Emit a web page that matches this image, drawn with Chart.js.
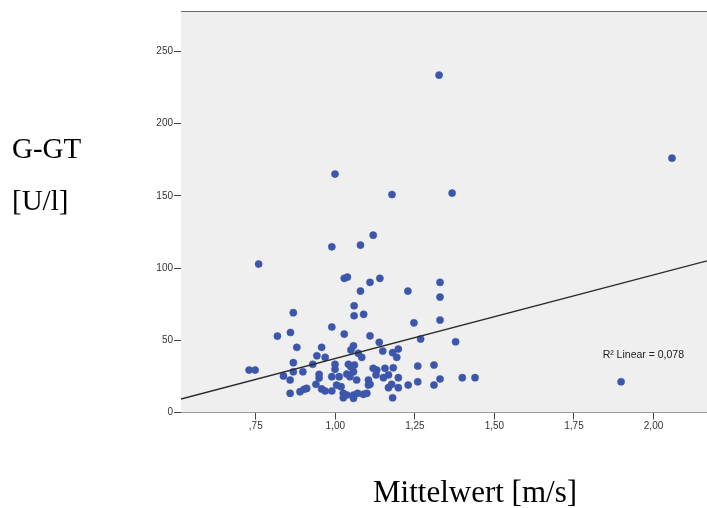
<!DOCTYPE html>
<html>
<head>
<meta charset="utf-8">
<script src="https://cdn.jsdelivr.net/npm/chart.js@4.4.1/dist/chart.umd.min.js"></script>
<style>
  html, body { margin: 0; padding: 0; background: #ffffff; overflow: hidden; }
  #wrap { width: 707px; height: 508px; position: relative; }
</style>
</head>
<body>
<div id="wrap"><canvas id="c" width="707" height="508"></canvas></div>
<script>
// ---- data ----
const mittelwert = [
  1.326, 2.058, 0.999, 1.367, 1.178, 1.119, 0.989, 1.079, 0.759, 1.028,
  1.038, 1.109, 1.140, 1.079, 1.228, 1.329, 1.329, 0.868, 1.059, 1.059,
  1.089, 1.247, 1.329, 0.989, 0.859, 0.818, 1.028, 1.109, 1.268, 1.378,
  0.879, 0.957, 1.138, 1.057, 1.049, 1.149, 1.198, 1.180, 1.193, 0.942,
  0.968, 1.072, 1.083, 0.868, 0.929, 0.999, 0.999, 1.041, 1.049, 1.060,
  0.729, 0.748, 0.837, 0.868, 0.898, 0.858, 0.949, 0.949, 0.989, 1.012,
  1.036, 1.046, 1.057, 1.067, 1.004, 1.018, 0.939, 0.858, 0.889, 0.902,
  0.910, 0.957, 0.968, 0.989, 1.025, 1.025, 1.036, 1.057, 1.057, 1.070,
  1.088, 1.099, 1.104, 1.104, 1.119, 1.130, 1.128, 1.156, 1.182, 1.151,
  1.167, 1.198, 1.109, 1.177, 1.167, 1.198, 1.229, 1.259, 1.259, 1.180,
  1.310, 1.329, 1.310, 1.399, 1.439, 1.898
];
const ggt = [
  233.6, 176.1, 165.1, 151.9, 150.9, 122.8, 114.7, 115.9, 102.8, 92.9,
  93.8, 90.1, 92.9, 84.1, 84.1, 90.1, 79.9, 69.1, 73.9, 67.0,
  68.0, 62.1, 64.0, 59.2, 55.4, 52.9, 54.3, 53.1, 50.9, 49.0,
  45.1, 45.1, 48.6, 46.2, 43.3, 42.6, 43.9, 41.4, 38.2, 39.3,
  38.2, 41.0, 38.2, 34.5, 33.4, 33.4, 29.9, 33.4, 31.7, 32.9,
  29.4, 29.4, 25.3, 28.2, 28.2, 22.5, 26.4, 23.9, 24.8, 24.8,
  26.6, 24.8, 28.2, 22.5, 19.0, 17.9, 19.5, 13.3, 14.4, 16.1,
  16.7, 16.3, 14.9, 14.9, 13.3, 10.2, 12.1, 9.8, 12.1, 13.3,
  12.6, 13.3, 22.5, 19.0, 30.6, 29.4, 26.0, 30.6, 31.0, 24.1,
  26.0, 24.1, 19.5, 19.5, 17.2, 17.2, 19.0, 32.2, 21.3, 10.2,
  32.9, 23.2, 19.0, 24.1, 24.1, 21.3
];
const xTickValues = [0.75, 1.00, 1.25, 1.50, 1.75, 2.00];
const xTickLabels = [',75', '1,00', '1,25', '1,50', '1,75', '2,00'];
const yTickValues = [0, 50, 100, 150, 200, 250];
const yTickLabels = ['0', '50', '100', '150', '200', '250'];
const fitIntercept = -20.5;   // linear fit
const fitSlope = 57.9;
const fitLabel = 'R\u00B2 Linear = 0,078';
const yTitleLines = ['G-GT', '[U/l]'];
const xTitle = 'Mittelwert [m/s]';

// axis ranges
const X_MIN = 0.515, X_MAX = 2.168;
const Y_MIN = 0, Y_MAX = 278;

const points = mittelwert.map((x, i) => ({ x: x, y: ggt[i] }));
const fitLine = [X_MIN, X_MAX].map(x => ({ x: x, y: fitIntercept + fitSlope * x }));

const plotDecor = {
  id: 'plotDecor',
  beforeDatasetsDraw(chart) {
    const { ctx, chartArea: a } = chart;
    ctx.save();
    ctx.fillStyle = '#efefef';
    ctx.fillRect(a.left, a.top, a.right - a.left, a.bottom - a.top);
    ctx.restore();
  },
  afterDraw(chart) {
    const { ctx, chartArea: a, scales } = chart;
    ctx.save();
    // top border
    ctx.strokeStyle = '#6a6a6a';
    ctx.lineWidth = 1;
    ctx.beginPath();
    ctx.moveTo(a.left, a.top + 0.5);
    ctx.lineTo(a.right, a.top + 0.5);
    ctx.stroke();
    // fit label
    ctx.fillStyle = '#222';
    ctx.font = '10.5px "Liberation Sans", Arial, sans-serif';
    ctx.textAlign = 'left';
    ctx.textBaseline = 'alphabetic';
    ctx.fillText(fitLabel, scales.x.getPixelForValue(1.84), scales.y.getPixelForValue(37.5));
    // axis titles
    ctx.fillStyle = '#000';
    ctx.font = '29px "Liberation Serif", "Times New Roman", serif';
    ctx.fillText(yTitleLines[0], 12, 158);
    ctx.fillText(yTitleLines[1], 12, 210);
    ctx.textAlign = 'center';
    ctx.font = '31px "Liberation Serif", "Times New Roman", serif';
    ctx.fillText(xTitle, 475, 502);
    ctx.restore();
  }
};

new Chart(document.getElementById('c'), {
  type: 'scatter',
  data: {
    datasets: [
      {
        type: 'line',
        data: fitLine,
        borderColor: '#2a2a2a',
        borderWidth: 1.3,
        pointRadius: 0,
        fill: false,
        order: 0
      },
      {
        data: points,
        backgroundColor: '#3c56ab',
        borderColor: '#3c56ab',
        borderWidth: 0.5,
        pointRadius: 3.6,
        pointHoverRadius: 3.6,
        order: 1
      }
    ]
  },
  options: {
    responsive: false,
    animation: false,
    events: [],
    layout: { autoPadding: false, padding: { left: 0, top: 11, right: 0, bottom: 0 } },
    plugins: { legend: { display: false }, tooltip: { enabled: false } },
    scales: {
      x: {
        type: 'linear',
        min: X_MIN,
        max: X_MAX,
        afterBuildTicks: s => { s.ticks = xTickValues.map(v => ({ value: v })); },
        afterFit: s => { s.height = 95.5; },
        ticks: {
          callback: (v) => { const i = xTickValues.indexOf(v); return i >= 0 ? xTickLabels[i] : ''; },
          font: { family: '"Liberation Sans", Arial, sans-serif', size: 10 },
          color: '#333',
          padding: 1,
          maxRotation: 0,
          autoSkip: false
        },
        grid: { drawOnChartArea: false, drawTicks: true, tickLength: 7, color: '#444', lineWidth: 1 },
        border: { display: true, color: '#444', width: 1 }
      },
      y: {
        type: 'linear',
        min: Y_MIN,
        max: Y_MAX,
        afterBuildTicks: s => { s.ticks = yTickValues.map(v => ({ value: v })); },
        afterFit: s => { s.width = 181; },
        ticks: {
          callback: (v) => { const i = yTickValues.indexOf(v); return i >= 0 ? yTickLabels[i] : ''; },
          font: { family: '"Liberation Sans", Arial, sans-serif', size: 10 },
          color: '#333',
          padding: 1,
          autoSkip: false
        },
        grid: { drawOnChartArea: false, drawTicks: true, tickLength: 7, color: '#444', lineWidth: 1 },
        border: { display: true, color: '#444', width: 1 }
      }
    }
  },
  plugins: [plotDecor]
});
</script>
</body>
</html>
